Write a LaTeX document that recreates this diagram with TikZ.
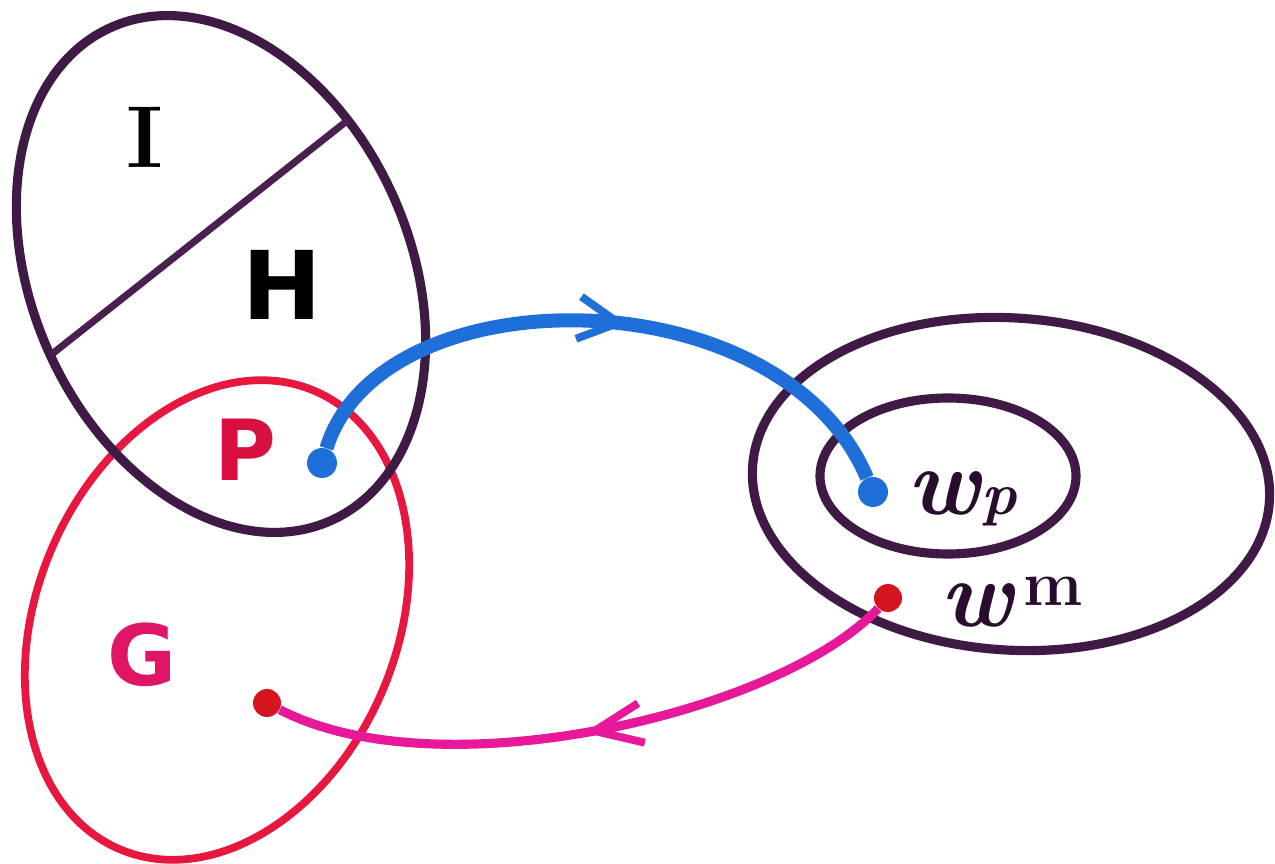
\documentclass[tikz,border=0pt]{standalone}
\usepackage{fontspec}
\newfontfamily\sanslab{DejaVu Sans}
\usetikzlibrary{arrows.meta,decorations.markings}
\definecolor{setpurple}{HTML}{3E1A44}
\definecolor{divpurple}{HTML}{4A2050}
\definecolor{setred}{HTML}{E8173F}
\definecolor{arcblue}{HTML}{1E6FD9}
\definecolor{arcmag}{HTML}{E8189A}
\definecolor{dotred}{HTML}{D4141F}
\definecolor{labred}{HTML}{D81040}
\definecolor{labmag}{HTML}{E01565}
\definecolor{labpurple}{HTML}{2A0C2E}
\begin{document}
\begin{tikzpicture}[x=0.02cm,y=0.02cm,
  setline/.style={line width=5.2pt, draw=setpurple},
  redset/.style={line width=4.4pt, draw=setred},
  divline/.style={line width=4pt, draw=divpurple},
  dotblue/.style={circle, inner sep=0pt, minimum size=0.6cm, fill=arcblue},
  dotred/.style={circle, inner sep=0pt, minimum size=0.56cm, fill=dotred},
  bluearc/.style={line width=8pt, draw=arcblue,
    decoration={markings, mark=at position 0.54 with {\arrow[arcblue]{Straight Barb[length=0.8cm,width=0.85cm,line width=4.5pt]}}},
    postaction=decorate},
  magarc/.style={line width=5.2pt, draw=arcmag,
    decoration={markings, mark=at position 0.51 with {\arrow[dotred]{Straight Barb[length=0.95cm,width=0.8cm,line width=4.5pt]}}},
    postaction=decorate},
  lab/.style={inner sep=0pt}
]
\useasboundingbox (0,0) rectangle (1275,863);
\fill[white] (0,0) rectangle (1275,863);

% left sets
\draw[redset, rotate around={67:(217,243)}] (217,243) ellipse [x radius=249, y radius=180];
\draw[setline, rotate around={-66:(221,589)}] (221,589) ellipse [x radius=270, y radius=189];
\begin{scope}
  \clip[rotate around={-66:(221,589)}] (221,589) ellipse [x radius=270, y radius=189];
  \draw[divline] (362,754) -- (28,490);
\end{scope}

% right sets
\draw[setline, rotate around={-4:(1011,379)}] (1011,379) ellipse [x radius=259, y radius=166];
\draw[setline] (948,387) ellipse [x radius=128, y radius=78];

% dots
\node[dotblue] (pdot) at (322,400) {};
\node[dotblue] (wpdot) at (873,371) {};
\node[dotred] (wmdot) at (888,265) {};
\node[dotred] (gdot) at (267,160) {};

% connectors
\draw[bluearc] (pdot) .. controls (380,590) and (780,590) .. (wpdot);
\draw[magarc] (wmdot) .. controls (780,150) and (440,70) .. (gdot);

% labels
\node[lab] (ilab) at (145,726) {\fontsize{50}{52}\selectfont\bfseries I};
\node[lab] (hlab) at (282,578) {\sanslab\fontsize{54}{56}\selectfont\bfseries H};
\node[lab, text=labred] (plab) at (245,413) {\sanslab\fontsize{48}{50}\selectfont\bfseries P};
\node[lab, text=labmag] (glab) at (142,208) {\sanslab\fontsize{48}{50}\selectfont\bfseries G};
\node[lab, anchor=base west, text=labpurple] (wplab) at (907,348)
  {\fontsize{54}{56}\selectfont\bfseries\itshape w\kern1pt{\fontsize{34}{36}\selectfont p}};
\node[lab, anchor=base west, text=labpurple] (wmlab) at (940,236)
  {\fontsize{54}{56}\selectfont\bfseries\itshape w\hspace{0.2cm}\raisebox{0.44cm}{\fontsize{36}{38}\selectfont\upshape m}};
\end{tikzpicture}
\end{document}
